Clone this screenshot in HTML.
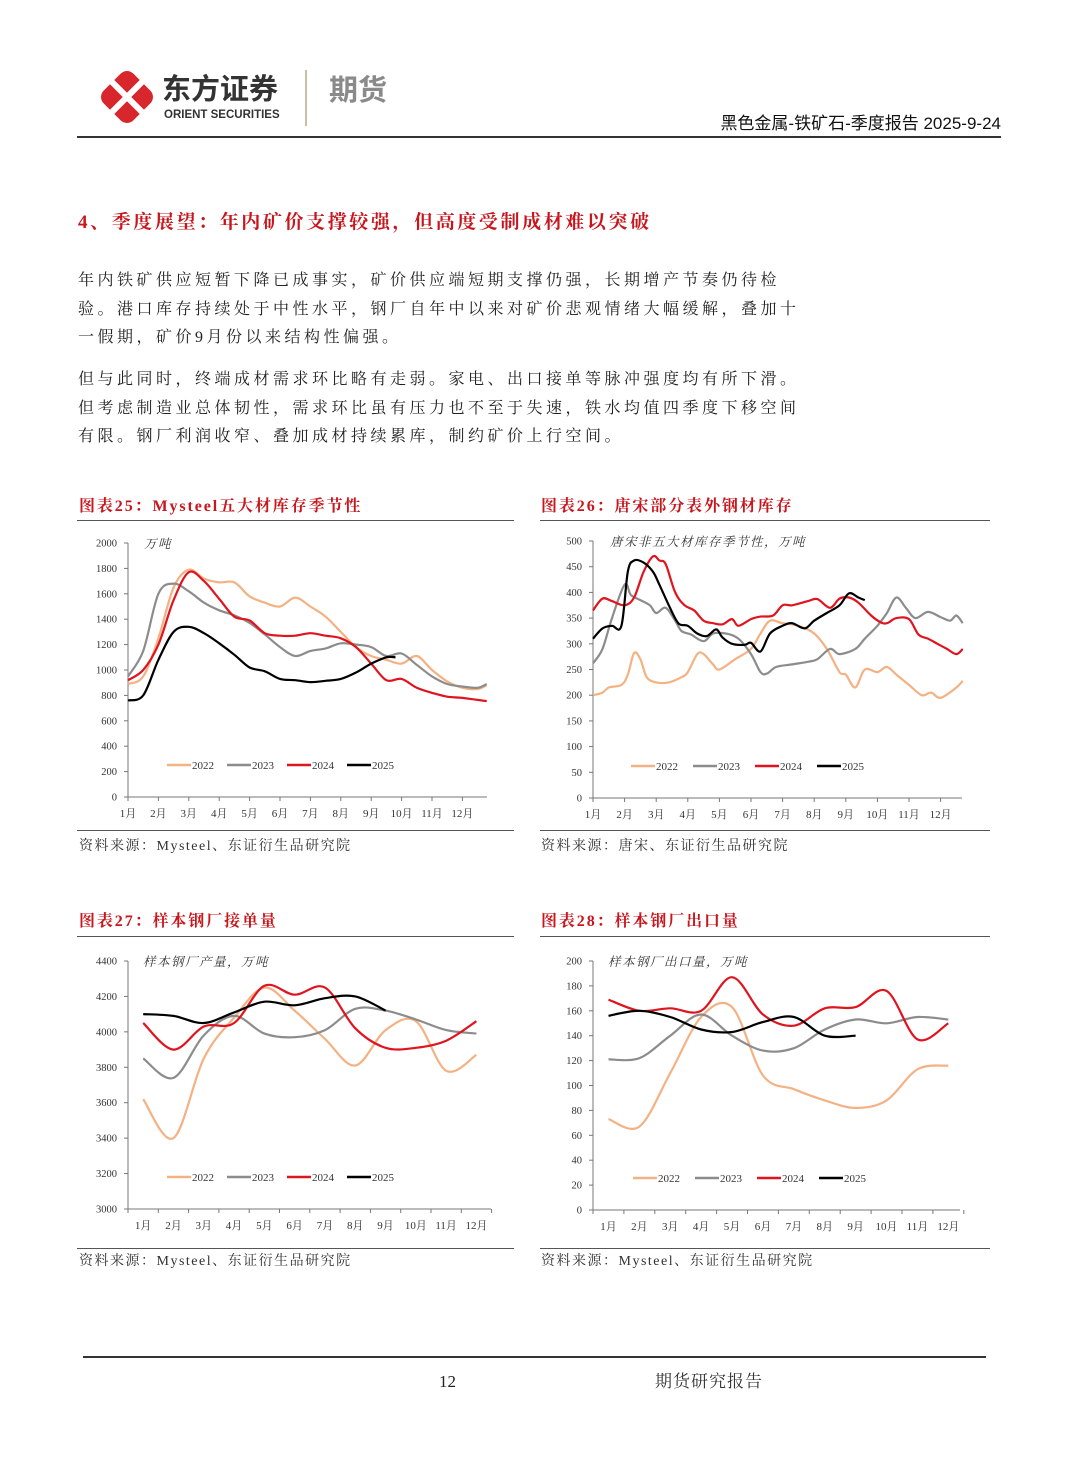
<!DOCTYPE html>
<html><head><meta charset="utf-8">
<style>
body{margin:0;background:#fff;}
#page{position:relative;width:1080px;height:1466px;background:#fff;overflow:hidden;font-family:"Liberation Serif","Noto Serif CJK SC",serif;color:#222;}
.abs{position:absolute;line-height:1;}
.para div{height:28.5px;line-height:28.5px;font-size:16px;letter-spacing:3.5px;white-space:nowrap;}
.ctitle{position:absolute;line-height:1;font-size:16px;font-weight:bold;color:#c8161d;font-family:"Liberation Serif","Noto Serif CJK SC",serif;letter-spacing:1.9px;}
.src{position:absolute;line-height:1;font-size:14px;color:#333;letter-spacing:1.5px;}
.hl{position:absolute;height:1px;background:#555;}
</style></head><body>
<div id="page">
<svg class="abs" style="left:96px;top:66px" width="62" height="62">
 <g transform="translate(31,31) rotate(45)">
  <rect x="-21" y="-21" width="42" height="42" rx="9" fill="#d7262c"/>
 </g>
 <line x1="14" y1="14" x2="48" y2="48" stroke="#fff" stroke-width="6" stroke-linecap="round"/>
 <line x1="48" y1="14" x2="14" y2="48" stroke="#fff" stroke-width="6" stroke-linecap="round"/>
</svg>
<div class="abs" style="left:162px;top:76px;font-family:'Liberation Sans','Noto Sans CJK SC',sans-serif;font-weight:bold;font-size:29px;color:#333">东方证券</div>
<div class="abs" style="left:164px;top:110px;font-family:'Liberation Sans',sans-serif;font-weight:bold;font-size:11.5px;color:#333">ORIENT SECURITIES</div>
<div class="abs" style="left:305px;top:70px;width:2px;height:56px;background:#c9bfa8"></div>
<div class="abs" style="left:329px;top:77px;font-family:'Liberation Sans','Noto Sans CJK SC',sans-serif;font-weight:bold;font-size:29px;color:#8a8a8a">期货</div>
<div class="abs" style="right:79px;top:115px;font-size:17px;color:#111;font-family:'Liberation Sans','Noto Sans CJK SC',sans-serif">黑色金属-铁矿石-季度报告 2025-9-24</div>
<div class="abs" style="left:77px;top:136px;width:924px;height:2px;background:#333"></div>

<div class="abs" style="left:78px;top:213px;font-size:19px;font-weight:bold;color:#c8161d;letter-spacing:2.6px">4、季度展望：年内矿价支撑较强，但高度受制成材难以突破</div>
<div class="abs para" style="left:78px;top:267px">
<div>年内铁矿供应短暂下降已成事实，矿价供应端短期支撑仍强，长期增产节奏仍待检</div>
<div>验。港口库存持续处于中性水平，钢厂自年中以来对矿价悲观情绪大幅缓解，叠加十</div>
<div>一假期，矿价9月份以来结构性偏强。</div>
</div>
<div class="abs para" style="left:78px;top:366px">
<div>但与此同时，终端成材需求环比略有走弱。家电、出口接单等脉冲强度均有所下滑。</div>
<div>但考虑制造业总体韧性，需求环比虽有压力也不至于失速，铁水均值四季度下移空间</div>
<div>有限。钢厂利润收窄、叠加成材持续累库，制约矿价上行空间。</div>
</div>

<div class="ctitle" style="left:79px;top:499px">图表25：Mysteel五大材库存季节性</div>
<div class="hl" style="left:77px;top:520px;width:437px"></div>
<div class="ctitle" style="left:541px;top:499px">图表26：唐宋部分表外钢材库存</div>
<div class="hl" style="left:540px;top:520px;width:450px"></div>
<div class="hl" style="left:77px;top:830px;width:437px"></div>
<div class="hl" style="left:540px;top:830px;width:450px"></div>
<div class="src" style="left:79px;top:840px">资料来源：Mysteel、东证衍生品研究院</div>
<div class="src" style="left:541px;top:840px">资料来源：唐宋、东证衍生品研究院</div>

<div class="ctitle" style="left:79px;top:914px">图表27：样本钢厂接单量</div>
<div class="hl" style="left:77px;top:936px;width:437px"></div>
<div class="ctitle" style="left:541px;top:914px">图表28：样本钢厂出口量</div>
<div class="hl" style="left:540px;top:936px;width:450px"></div>
<div class="hl" style="left:77px;top:1248px;width:437px"></div>
<div class="hl" style="left:540px;top:1248px;width:450px"></div>
<div class="src" style="left:79px;top:1255px">资料来源：Mysteel、东证衍生品研究院</div>
<div class="src" style="left:541px;top:1255px">资料来源：Mysteel、东证衍生品研究院</div>

<div class="abs" style="left:83px;top:1356px;width:903px;height:1.5px;background:#333"></div>
<div class="abs" style="left:439px;top:1373px;font-size:17px">12</div>
<div class="abs" style="left:655px;top:1373px;font-size:17px;letter-spacing:1px;color:#333">期货研究报告</div>

<svg id="charts" class="abs" style="left:0;top:0" width="1080" height="1466"></svg>
</div>
<script>
const monthLabels=["1月","2月","3月","4月","5月","6月","7月","8月","9月","10月","11月","12月"];
const years=["2022","2023","2024","2025"];
const colors=["#f4b183","#8c8c8c","#e0141e","#000000"];
// chart 25: [monthPosition, value]
const c25_2022=[[0,890],[0.5,950],[1,1250],[1.5,1650],[2,1790],[2.5,1720],[3,1690],[3.5,1690],[4,1580],[4.5,1530],[5,1500],[5.5,1570],[6,1500],[6.5,1420],[7,1300],[7.5,1180],[8,1110],[8.5,1080],[9,1050],[9.5,1110],[10,1000],[10.5,910],[11,860],[11.5,850],[11.8,880]];
const c25_2023=[[0,950],[0.5,1150],[1,1600],[1.5,1680],[2,1620],[2.5,1530],[3,1470],[3.5,1430],[4,1370],[4.5,1280],[5,1180],[5.5,1110],[6,1150],[6.5,1170],[7,1210],[7.5,1200],[8,1180],[8.5,1110],[9,1130],[9.5,1040],[10,950],[10.5,890],[11,870],[11.5,860],[11.8,890]];
const c25_2024=[[0,920],[0.5,1000],[1,1200],[1.5,1550],[2,1770],[2.5,1700],[3,1560],[3.5,1420],[4,1390],[4.5,1290],[5,1270],[5.5,1270],[6,1290],[6.5,1270],[7,1250],[7.5,1180],[8,1050],[8.5,920],[9,930],[9.5,860],[10,820],[10.5,790],[11,780],[11.8,755]];
const c25_2025=[[0,760],[0.5,800],[1,1080],[1.5,1300],[2,1340],[2.5,1290],[3,1210],[3.5,1120],[4,1020],[4.5,990],[5,930],[5.5,920],[6,905],[6.5,915],[7,930],[7.5,980],[8,1050],[8.5,1100],[8.8,1100]];
// chart 26
const c26_2022=[[0,200],[0.3,205],[0.5,215],[0.9,220],[1.1,240],[1.3,282],[1.5,270],[1.7,235],[2,225],[2.4,225],[2.8,235],[3,245],[3.3,280],[3.5,280],[3.8,260],[4,250],[4.5,270],[5,290],[5.3,320],[5.6,345],[6,340],[6.5,335],[7,320],[7.4,290],[7.8,245],[8,240],[8.3,215],[8.6,250],[9,245],[9.3,255],[9.6,240],[10,220],[10.4,200],[10.7,205],[11,195],[11.5,215],[11.7,228]];
const c26_2023=[[0,262],[0.3,290],[0.6,350],[1,415],[1.2,395],[1.5,385],[1.8,375],[2,360],[2.3,370],[2.6,345],[2.8,325],[3.1,318],[3.5,305],[3.8,320],[4.2,320],[4.6,310],[5,280],[5.3,245],[5.5,242],[5.8,255],[6.3,260],[6.8,265],[7.1,270],[7.5,290],[7.8,280],[8.3,290],[8.6,310],[9,335],[9.3,360],[9.6,390],[9.9,370],[10.2,350],[10.6,362],[11,352],[11.3,345],[11.5,355],[11.7,340]];
const c26_2024=[[0,365],[0.3,388],[0.6,383],[1,375],[1.3,390],[1.6,440],[1.9,470],[2.1,462],[2.3,455],[2.6,400],[2.9,375],[3.2,365],[3.5,345],[3.8,340],[4.1,338],[4.4,348],[4.6,335],[5,348],[5.3,353],[5.7,355],[6,375],[6.3,375],[6.8,383],[7.1,387],[7.5,370],[7.8,388],[8.1,390],[8.4,380],[8.8,355],[9.1,342],[9.3,340],[9.6,350],[10,348],[10.3,318],[10.6,310],[10.9,300],[11.2,290],[11.5,280],[11.7,290]];
const c26_2025=[[0,310],[0.3,330],[0.6,335],[0.9,335],[1.1,440],[1.3,462],[1.6,458],[1.9,440],[2.1,415],[2.4,375],[2.7,340],[3,335],[3.3,320],[3.6,315],[3.9,328],[4.1,312],[4.4,300],[4.8,298],[5,302],[5.3,285],[5.6,320],[6,335],[6.3,340],[6.7,330],[7,345],[7.4,360],[7.8,375],[8.1,398],[8.4,390],[8.6,385]];
// chart 27 monthly
const c27_2022=[3620,3400,3850,4080,4250,4120,3960,3810,4010,4060,3780,3870];
const c27_2023=[3850,3740,3980,4090,3990,3970,4010,4130,4120,4070,4010,3990];
const c27_2024=[4050,3900,4030,4050,4260,4210,4250,4020,3910,3910,3950,4060];
const c27_2025=[4100,4090,4050,4110,4170,4150,4190,4200,4120];
// chart 28 monthly
const c28_2022=[73,67,110,155,163,108,97,88,82,88,113,116];
const c28_2023=[121,122,140,157,140,128,130,145,153,150,155,153];
const c28_2024=[169,160,162,160,187,157,148,162,163,176,137,150];
const c28_2025=[156,160,155,145,143,151,155,140,140];

const NS="http://www.w3.org/2000/svg";
const svg=document.getElementById('charts');
function mk(tag,attrs,parent){const e=document.createElementNS(NS,tag);for(const k in attrs)e.setAttribute(k,attrs[k]);(parent||svg).appendChild(e);return e;}
function smoothPath(pts){
 let d="M"+pts[0][0].toFixed(1)+","+pts[0][1].toFixed(1);
 for(let i=0;i<pts.length-1;i++){
  const p0=pts[i-1]||pts[i],p1=pts[i],p2=pts[i+1],p3=pts[i+2]||p2;
  const c1x=p1[0]+(p2[0]-p0[0])/6,c1y=p1[1]+(p2[1]-p0[1])/6;
  const c2x=p2[0]-(p3[0]-p1[0])/6,c2y=p2[1]-(p3[1]-p1[1])/6;
  d+=" C"+c1x.toFixed(1)+","+c1y.toFixed(1)+" "+c2x.toFixed(1)+","+c2y.toFixed(1)+" "+p2[0].toFixed(1)+","+p2[1].toFixed(1);
 }
 return d;
}
function chart(cfg){
 const g=mk('g',{});
 
 
 const ys=v=>cfg.y0-(v-cfg.ymin)/(cfg.ymax-cfg.ymin)*(cfg.y0-cfg.yTop);
 const xs=m=>cfg.cat?cfg.x0+(m+0.5)*cfg.w:cfg.x0+m*cfg.w;
 const ax=mk('line',{x1:cfg.x0,y1:cfg.yTop,x2:cfg.x0,y2:cfg.y0,stroke:'#777','stroke-width':1},g);
 
 const bx=mk('line',{x1:cfg.x0,y1:cfg.y0,x2:cfg.xEnd,y2:cfg.y0,stroke:'#777','stroke-width':1},g);
 
 for(let v=cfg.ymin;v<=cfg.ymax+1e-6;v+=cfg.step){
  const y=ys(v);
  mk('line',{x1:cfg.x0-4,y1:y,x2:cfg.x0,y2:y,stroke:'#777'},g);
  const t=mk('text',{x:cfg.x0-11,y:y+3.5,'text-anchor':'end','font-size':10.5,fill:'#333'},g);
  t.textContent=v;
  
  
 }
 for(let i=0;i<12;i++){
  const tx=cfg.cat?cfg.x0+i*cfg.w:xs(i);
  mk('line',{x1:tx,y1:cfg.y0,x2:tx,y2:cfg.y0+4,stroke:'#777'},g);
  const t=mk('text',{x:xs(i),y:cfg.y0+20,'text-anchor':'middle','font-size':11,fill:'#333'},g);
  t.textContent=monthLabels[i];
  
  
 }
 if(cfg.cat){mk('line',{x1:cfg.x0+12*cfg.w,y1:cfg.y0,x2:cfg.x0+12*cfg.w,y2:cfg.y0+4,stroke:'#777'},g);}
 const u=mk('text',{x:cfg.unitX,y:cfg.yTop+5,'font-size':12.5,fill:'#333','font-style':'italic','letter-spacing':1.5},g);
 u.textContent=cfg.unit;
 
 
 cfg.series.forEach((s,k)=>{
  const pts=cfg.cat?s.map((v,i)=>[xs(i),ys(v)]):s.map(p=>[xs(p[0]),ys(p[1])]);
  const p=mk('path',{d:smoothPath(pts),fill:'none',stroke:colors[k],'stroke-width':2.2,'stroke-linejoin':'round'},g);
  
  
 });
 years.forEach((yr,k)=>{
  const lx=cfg.legX+k*cfg.legGap;
  const l=mk('line',{x1:lx,y1:cfg.legY,x2:lx+24,y2:cfg.legY,stroke:colors[k],'stroke-width':2.5},g);
  
  
  const t=mk('text',{x:lx+25,y:cfg.legY+4,'font-size':11,fill:'#333'},g);
  t.textContent=yr;
  
  
 });
}
chart({name:'chart25',x0:128,y0:797,yTop:543,ymin:0,ymax:2000,step:200,w:30.4,xEnd:487,cat:false,unit:'万吨',unitX:144,legX:167,legY:765,legGap:60,series:[c25_2022,c25_2023,c25_2024,c25_2025]});
chart({name:'chart26',x0:593,y0:798,yTop:541,ymin:0,ymax:500,step:50,w:31.6,xEnd:962,cat:false,unit:'唐宋非五大材库存季节性，万吨',unitX:610,legX:631,legY:766,legGap:62,series:[c26_2022,c26_2023,c26_2024,c26_2025]});
chart({name:'chart27',x0:128,y0:1209,yTop:961,ymin:3000,ymax:4400,step:200,w:30.3,xEnd:491,cat:true,unit:'样本钢厂产量，万吨',unitX:143,legX:167,legY:1177,legGap:60,series:[c27_2022,c27_2023,c27_2024,c27_2025]});
chart({name:'chart28',x0:593,y0:1210,yTop:961,ymin:0,ymax:200,step:20,w:30.9,xEnd:960,cat:true,unit:'样本钢厂出口量，万吨',unitX:608,legX:633,legY:1178,legGap:62,series:[c28_2022,c28_2023,c28_2024,c28_2025]});
</script>
</body></html>
